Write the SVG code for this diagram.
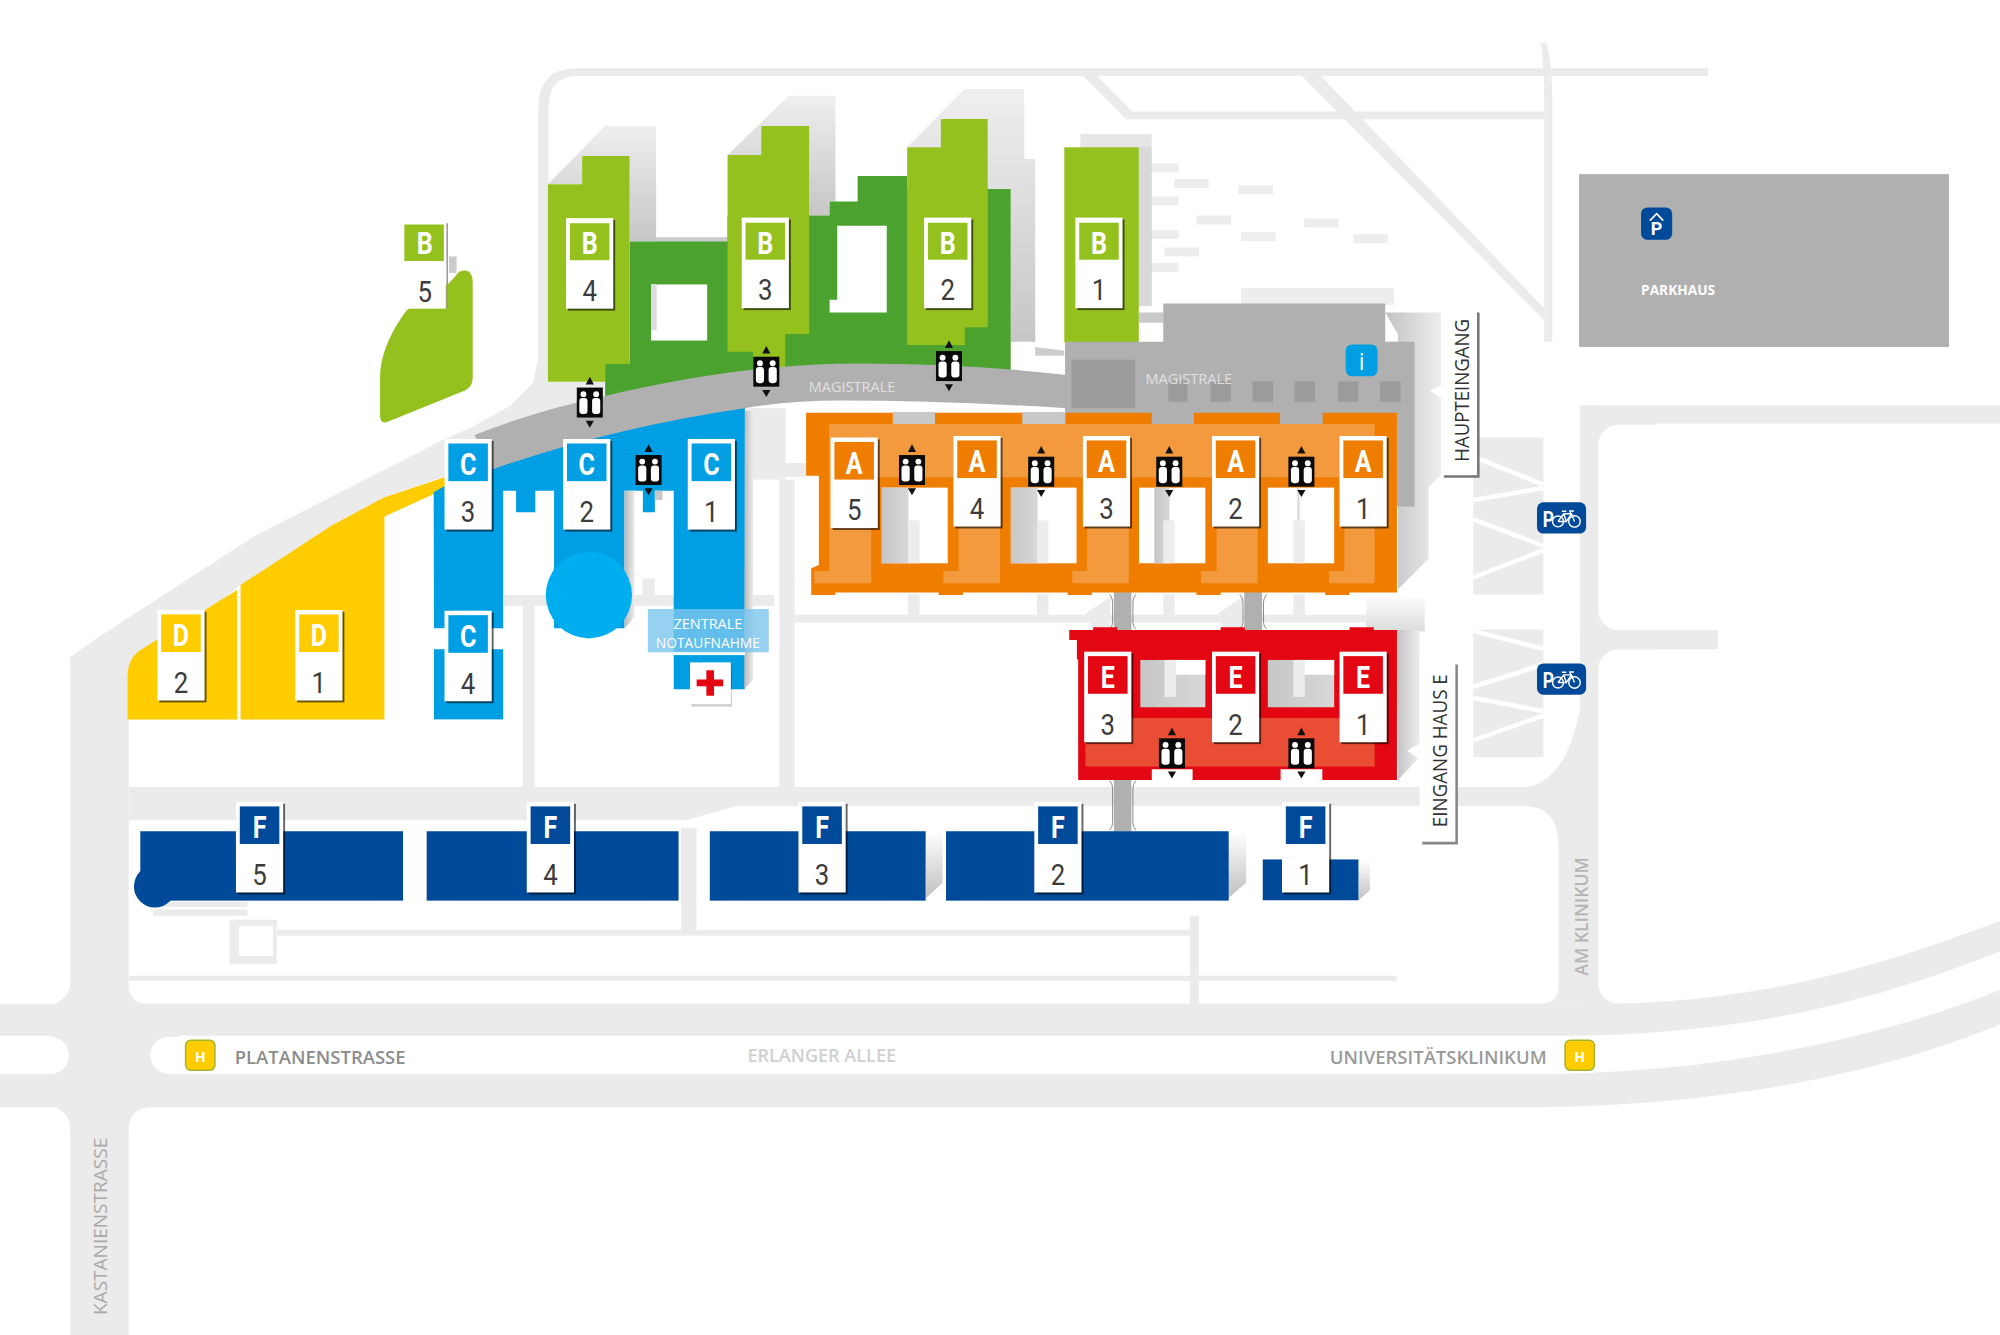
<svg xmlns="http://www.w3.org/2000/svg" width="2000" height="1335" viewBox="0 0 2000 1335">
<style>
.r{fill:#ebebeb}.w{fill:#fff}.s{fill:url(#sh)}.l{fill:url(#shl)}.ct{fill:url(#cg)}.p{fill:#ededed}.sf{fill:url(#sf)}
.g{fill:#b1b0b1}.dg{fill:#9b9b9b}.lg{fill:#95c11f}.dk{fill:#4ca22f}.bl{fill:#009fe3}.ye{fill:#fc0}.or{fill:#ef7d00}.lo{fill:#f39a3e}.re{fill:#e30613}.lr{fill:#e94e35}.nv{fill:#004a99}
.card{fill:#fff}.cs{fill:#000;opacity:.6}
.L{font:700 24px Roboto,"Liberation Sans",sans-serif;fill:#fff;text-anchor:middle;transform:scaleX(.82)}
.N{font:400 23px Roboto,"Liberation Sans",sans-serif;fill:#3c3c3c;text-anchor:middle;transform:scaleX(.88)}
.t{font-family:"Open Sans","Liberation Sans",sans-serif}
.pk{font:700 17px Roboto,"Liberation Sans",sans-serif;fill:#fff}
</style>
<defs>
<linearGradient id="sh" x1="0" y1="0" x2="0" y2="1"><stop offset="0" stop-color="#efefef"/><stop offset="1" stop-color="#c6c6c6"/></linearGradient>
<linearGradient id="sf" x1="0" y1="0" x2="0" y2="1"><stop offset="0" stop-color="#fff"/><stop offset="1" stop-color="#c0c0c0"/></linearGradient>
<linearGradient id="tp" x1="0" y1="0" x2="0" y2="1"><stop offset="0" stop-color="#fbfbfb"/><stop offset="1" stop-color="#dcdcdc"/></linearGradient>
<linearGradient id="shl" x1="0" y1="0" x2="1" y2="0"><stop offset="0" stop-color="#b9b9b9"/><stop offset="1" stop-color="#ececec"/></linearGradient>
<linearGradient id="sr" x1="0" y1="0" x2="1" y2="0"><stop offset="0" stop-color="#c2c2c2"/><stop offset="1" stop-color="#eeeeee"/></linearGradient>
<linearGradient id="cg" x1="0" y1="0" x2="1" y2="0"><stop offset="0" stop-color="#c6c6c6"/><stop offset="1" stop-color="#d8d8d8"/></linearGradient>
<g id="lift">
<polygon points="0,-20.2 -3.2,-14.2 3.2,-14.2" fill="#111"/><polygon points="0,19.8 -3.2,14.3 3.2,14.3" fill="#111"/>
<rect x="-10.2" y="-11.75" width="20.4" height="23.5" fill="#0a0a0a"/>
<g fill="#fff"><circle cx="-5" cy="-6.6" r="2.3"/><circle cx="5" cy="-6.6" r="2.3"/><rect x="-8.2" y="-3.6" width="6.4" height="12.6" rx="2.4"/><rect x="1.8" y="-3.6" width="6.4" height="12.6" rx="2.4"/></g>
</g>
<g id="bike" fill="none" stroke="#fff" stroke-width="1.1"><circle cx="16.5" cy="15" r="4.3"/><circle cx="29.4" cy="15" r="4.5"/><path d="M16.5 15L21 9L27 9L29.4 15M21 9L23 15L27 9M23 15H16.5M19.5 7H23M26.5 9L25.8 6.8H29"/></g>
</defs>
<rect width="2000" height="1335" fill="#fff"/>
<g id="map" transform="scale(1.27551)">
<g id="roads">
<path class="r" d="M55,515L78,499L200,420L349,344L372,334L400,318L418,300L422,280L422,85Q422,53.5 452,53.5L1339,53.5V59.5L452,59.5Q430,59.5 430,85V299H474V320L386,368L350,373L301,390L188.6,458.6L100,530H55Z"/>
<rect class="r" x="55" y="515" width="46" height="532"/>
<path class="r" d="M101,617L1198,617C1220,612 1232,590 1239,555V318H1252V787H101Z"/>
<path class="w" d="M101,643L538,643L577,632L1195,632Q1222,632 1222,665L1222,772Q1222,787 1207,787L116,787Q101,787 101,772Z"/>
<rect class="r" x="1239" y="318" width="329" height="14"/><rect class="r" x="1239" y="318" width="60" height="200"/><rect class="r" x="1239" y="494" width="30" height="300"/>
<rect class="w" x="1253" y="333" width="400" height="161" rx="16"/><rect class="w" x="1253" y="509" width="400" height="278" rx="16"/>
<rect class="r" x="1239" y="494" width="108" height="15"/>
<rect class="r" x="45" y="770" width="15" height="20"/><rect class="w" x="-50" y="500" width="105" height="287" rx="16"/>
<rect class="r" x="45" y="860" width="70" height="30"/><rect class="w" x="-50" y="868" width="105" height="300" rx="16"/><rect class="w" x="101" y="868" width="1500" height="300" rx="16"/>
<path class="r" d="M0,787L1255,787C1380,787 1480,755 1568,722V746C1480,780 1380,812 1220,812L0,812Z"/>
<path class="r" d="M0,842L1200,842C1350,842 1480,812 1568,776V803C1480,840 1350,868 1200,868L0,868Z"/>
<rect class="r" x="40" y="810" width="100" height="34"/><rect class="w" x="-40" y="813" width="94" height="29" rx="14"/><rect class="w" x="118" y="813" width="200" height="29" rx="14"/>
<rect class="r" x="1155" y="343" width="55" height="123"/><rect class="r" x="1155" y="493.6" width="55" height="100"/>
<path fill="none" stroke="#fff" stroke-width="3.6" d="M1155,358L1210,380M1155,392L1210,382.6M1155,407L1210,428M1155,452.6L1210,431.6M1155,494.6L1210,508.6M1155,538.4L1210,521M1155,547L1210,557.6M1155,580.4L1210,561"/>
<polygon class="r" points="849,59.3 883,93.5 1210.6,93.5 1210.6,87.5 887.6,87.5 860,59.3"/>
<polygon class="r" points="1020,59 1210.6,251 1210.6,241.6 1035,59"/>
<path class="r" d="M1210.6,34L1212.5,34Q1217,50 1217,80V268H1210.6V80Q1210.6,50 1208,34Z"/>
<rect class="r" x="101" y="765" width="994" height="4"/><rect class="r" x="217" y="729" width="723" height="4.5"/><rect class="r" x="933" y="718" width="7" height="69"/><rect class="r" x="534" y="649" width="12" height="84"/>
<path class="r" fill-rule="evenodd" d="M180,721H217V756H180ZM187.5,726V749.5H214V726Z"/>
<rect class="r" x="120" y="707" width="74" height="4"/><rect class="r" x="120" y="713" width="74" height="5"/>
<rect class="r" x="410" y="474" width="9" height="143"/><rect class="r" x="395" y="466.5" width="212" height="8.5"/><rect class="r" x="503.6" y="453.4" width="9.8" height="14"/>
<rect class="r" x="611" y="376" width="12" height="241"/><rect class="r" x="584" y="320" width="32" height="56"/><rect class="r" x="611" y="363" width="21" height="11"/>
<rect class="r" x="623" y="482" width="450" height="6"/>
<rect class="r" x="712" y="466" width="9" height="16"/><rect class="r" x="813" y="466" width="9" height="16"/><rect class="r" x="912" y="466" width="9" height="16"/><rect class="r" x="1014" y="466" width="9" height="16"/>
<g class="p"><rect x="897" y="128" width="27" height="7"/><rect x="920.6" y="140.4" width="27" height="7"/><rect x="971" y="145.3" width="27" height="7"/><rect x="897" y="154" width="27" height="7"/><rect x="938" y="169" width="27" height="7"/><rect x="1022.5" y="171.4" width="27" height="7"/><rect x="897" y="180.4" width="27" height="7"/><rect x="973" y="182" width="27" height="7"/><rect x="1061" y="183.7" width="27" height="7"/><rect x="913" y="194" width="27" height="7"/><rect x="897" y="206" width="27" height="7"/></g>
</g>
<g id="shadows">
<polygon class="s" points="429.6,144.5 474.4,98.5 514.4,98.5 514.4,189.4 493.6,189.4 493.6,122.3 456.4,122.3 456.4,144.5"/>
<rect x="514" y="186" width="56.4" height="4" fill="#ccc"/>
<polygon class="s" points="570.4,121.5 618.4,75 655,75 655,158 650.4,158 650.4,169 634.4,169 634.4,98.8 596.8,98.8 596.8,121.5"/>
<polygon class="s" points="711.2,115.5 756.4,69.8 803,69.8 803,124.6 811.6,124.6 811.6,268 792.4,268 792.4,148 774.4,148 774.4,93.3 737.6,93.3 737.6,115.5"/>
<polygon points="811.6,272 834.4,275 834.4,279 811.6,279" fill="#ccc"/>
<rect x="847" y="105" width="56" height="12" fill="#e6e6e6"/><rect x="893" y="115" width="10" height="125" fill="#d9d9d9"/><rect x="893" y="245" width="19" height="8" fill="#c9c9c9"/>
<rect x="973" y="226" width="120" height="13" class="p"/>
<polygon points="1086,245 1130,245 1130,302 1121,306.5 1130,312 1130,372 1120,382 1120,438 1096,462 1096,262" fill="url(#sr)"/>
<rect x="1071" y="469" width="46" height="26" fill="url(#tp)"/>
<polygon points="1095,494 1113,494 1113,583 1103,588.5 1112,594.5 1096,611.5" fill="url(#sr)"/>
<polygon points="851,481 870.5,468 870.5,494 857,494" class="r"/><polygon points="955,481 974,468 974,494 960,494" class="r"/>
<polygon class="sf" points="726,652 739,652 739,692 726,704"/><polygon class="sf" points="963,652 977,652 977,692 963,704"/><polygon class="sf" points="1065,674 1074,674 1074,698 1065,706"/>
<rect x="700" y="323" width="33" height="10" fill="#c8c8c8"/><rect x="801" y="323" width="35" height="10" fill="#c8c8c8"/>
</g>
<g id="haus-b">
<polygon class="dk" points="474.4,285 493.6,285 493.6,189.4 570.4,189.4 570.4,169 650.4,169 650.4,158 672.4,158 672.4,138 711.2,138 711.2,148.2 792.4,148.2 792.4,300 474.4,320"/>
<polygon class="lg" points="429.6,144.5 456.4,144.5 456.4,122.3 493.6,122.3 493.6,285.4 474.4,285.4 474.4,299.2 429.6,299.2"/>
<polygon class="lg" points="570.4,121.5 596.8,121.5 596.8,98.8 634.4,98.8 634.4,261.8 615.6,261.8 615.6,294 590.4,295 590.4,275.7 570.4,275.7"/>
<polygon class="lg" points="711.2,115.5 737.6,115.5 737.6,93.3 774.4,93.3 774.4,256.6 756.4,256.6 756.4,270.5 711.2,270.5"/>
<rect class="lg" x="834.4" y="115.5" width="58.4" height="153"/>
<rect class="w" x="510.4" y="223" width="44" height="44"/><rect x="510.4" y="223" width="4.4" height="36" fill="#ddd"/>
<polygon class="w" points="656.4,177 695.2,177 695.2,245 650.4,245 650.4,235 656.4,235"/>
<rect x="352" y="201" width="6" height="13" fill="#ccc"/>
<path class="lg" d="M352,222L360,213Q370.6,209 370.6,222L370.6,296Q370.6,303 365,306L303,331Q298,332 298,326L298,296C298,275 310,255 319,243Z"/>
</g>
<g id="haus-d">
<path class="ye" d="M188.6,458.6L260,412L301,390L349.6,373.7V383L301.4,405V564H188.6Z"/>
<path class="ye" d="M185.8,462.6V564H100V530Q100,518 108,511Z"/>
</g>
<g id="haus-c">
<path class="bl" d="M340,386L386,360L584,312V540.4H528.2V384.7H513.4V401.7H504V384.7H489.6V492.6H434.4V384.7H419.7V401.7H404.6V384.7H394.5V492.6H340.2Z"/>
<rect class="bl" x="340.2" y="509" width="54.3" height="55"/>
<polygon points="489.6,384.7 497.4,384.7 497.4,484 489.6,492.6" fill="url(#shl)"/>
<rect x="513.4" y="384.7" width="6" height="7.3" fill="#c8c8c8"/>
<polygon points="584,322 590.4,322 590.4,533 583.5,540.4" fill="url(#shl)"/>
<ellipse cx="461.7" cy="466.5" rx="33.8" ry="34" fill="#00aeef"/>
<rect class="w" x="528" y="511" width="56" height="2.6"/>
</g>
<g id="haus-main">
<polygon class="g" points="835,268 912,268 912,238 1086,238 1086,268 1109,268 1109,397 1095,397 1095,335 835,335"/>
<rect class="dg" x="840" y="282" width="50" height="38"/>
<g class="dg"><rect x="916" y="299" width="15" height="16"/><rect x="949" y="299" width="16" height="16"/><rect x="982" y="299" width="16" height="16"/><rect x="1015" y="299" width="16" height="16"/><rect x="1049" y="299" width="16" height="16"/><rect x="1082" y="299" width="16" height="16"/></g>
<path class="g" d="M372,341Q420,322 472,311Q580,285 674,285Q760,285 836,294L836,320Q740,314 660,314Q620,314 584,320Q480,335 386,368Z"/>
</g>
<g id="connectors">
<rect class="g" x="873.3" y="464" width="13.7" height="31"/><rect class="g" x="975.5" y="464" width="14" height="31"/><rect class="g" x="873.3" y="611" width="13.7" height="41"/>
<path fill="none" stroke="#666" stroke-width=".6" d="M870,466Q872.3,469 872.3,472V488Q872.3,491 870,493M890.5,466Q888.2,469 888.2,472V488Q888.2,491 890.5,493M972,466Q974.5,469 974.5,472V488Q974.5,491 972,493M993,466Q990.6,469 990.6,472V488Q990.6,491 993,493M870,612Q872.3,615 872.3,618V645Q872.3,648 870,651M890.5,612Q888.2,615 888.2,618V645Q888.2,648 890.5,651"/>
</g>
<g id="haus-a">
<path class="or" d="M632,323.5H700V332.4H733V323.5H801.5V332.4H835.5V323.5H903V332.4H936V323.5H1003.5V332.4H1037V323.5H1095.2V464.6H1058V466.5H1039V464.6H957V466.5H938V464.6H856V466.5H837V464.6H755V466.5H736V464.6H655V466.5H636V445.6L642,443V373H632Z"/>
<rect class="lo" x="650" y="332.4" width="427.7" height="41.8"/>
<g class="lo"><path d="M650,374H683V457.3H638.4V447.6H650Z"/><path d="M751.5,374H784V457.3H739.6V447.6H751.5Z"/><path d="M852.3,374H885V457.3H840.7V447.6H852.3Z"/><path d="M953.8,374H986V457.3H941.5V447.6H953.8Z"/><path d="M1054,374H1077.7V457.3H1042V447.6H1054Z"/></g>
<g class="w"><rect x="691.3" y="382.3" width="51.7" height="59.3"/><rect x="792.5" y="382.3" width="51.5" height="59.3"/><rect x="893" y="382.3" width="52" height="59.3"/><rect x="994" y="382.3" width="52" height="59.3"/></g>
<rect class="ct" x="691.3" y="382.3" width="21" height="59.3"/><rect class="ct" x="792.5" y="382.3" width="21" height="59.3"/><rect class="ct" x="905" y="382.3" width="12" height="59.3"/><rect x="1017" y="382.3" width="2" height="59.3" fill="#ddd"/>
<g class="p"><rect x="712" y="408" width="9" height="33.6"/><rect x="813" y="408" width="9" height="33.6"/><rect x="912" y="408" width="9" height="33.6"/><rect x="1014" y="408" width="9" height="33.6"/></g>
</g>
<g id="haus-e">
<path class="re" d="M838.3,493.9H857V491.8H876V493.9H957V491.8H976V493.9H1058V491.8H1077V493.9H1095.2V611.5H1036.7V603H1004V611.5H935V603H903V611.5H845.3V517H844.3V501.7H838.3Z"/>
<rect class="lr" x="851" y="563" width="226.7" height="38"/>
<rect class="ct" x="894" y="517.4" width="51" height="37.1"/><rect class="w" x="915" y="517.4" width="30" height="11.6"/><rect x="913" y="517.4" width="9" height="29" class="p"/>
<rect class="ct" x="994" y="517.4" width="52" height="37.1"/><rect class="w" x="1016" y="517.4" width="30" height="11.6"/><rect x="1014" y="517.4" width="9" height="29" class="p"/>
</g>
<g id="haus-f">
<rect class="nv" x="110" y="651.7" width="206" height="54.4"/><circle class="nv" cx="121.5" cy="695" r="16.5"/>
<rect class="nv" x="334.5" y="651.7" width="197.5" height="54.4"/><rect class="nv" x="556.5" y="651.7" width="169.2" height="54.4"/><rect class="nv" x="741.7" y="651.7" width="221.6" height="54.4"/><rect class="nv" x="990" y="673.8" width="75" height="32"/>
</g>
<g id="notaufnahme">
<rect x="507.9" y="477.5" width="94.8" height="33.9" fill="#7cc6ee" opacity=".8"/>
<text class="t" x="555" y="493.4" font-size="12" fill="#fff" text-anchor="middle" textLength="54" lengthAdjust="spacingAndGlyphs">ZENTRALE</text>
<text class="t" x="555" y="508.3" font-size="12" fill="#fff" text-anchor="middle" textLength="81.6" lengthAdjust="spacingAndGlyphs">NOTAUFNAHME</text>
<rect x="542" y="521" width="32" height="33" fill="#000" opacity=".18"/>
<rect class="w" x="541" y="519.3" width="32" height="32.7"/>
<path class="re" d="M553.8,525.5h6v7.2h7.2v5.4h-7.2v7.4h-6v-7.4h-7.6v-5.4h7.6z"/>
</g>
<g id="lifts">
<use href="#lift" x="462.4" y="315.6"/><use href="#lift" x="600.8" y="291.4"/><use href="#lift" x="744" y="287"/><use href="#lift" x="508.5" y="368.5"/>
<use href="#lift" x="715" y="368.5"/><use href="#lift" x="816.3" y="369.8"/><use href="#lift" x="916.7" y="369.8"/><use href="#lift" x="1020.3" y="369.8"/>
<use href="#lift" x="918.8" y="590.6"/><use href="#lift" x="1020.3" y="590.6"/>
</g>
<g id="cards">
<g id="card-B5" transform="translate(333,173)"><rect class="card" x="-16.5" y="0" width="33" height="69"/><rect x="17" y="2" width="1.2" height="67" fill="#999"/><rect class="lg" x="-16" y="3" width="31" height="28.6"/><text class="L" y="26.5">B</text><text class="N" y="64">5</text></g>
<g id="card-B4" transform="translate(462.3,171)"><rect class="cs" x="-17" y="1.5" width="37" height="71"/><rect class="card" x="-18.5" width="37" height="71"/><rect class="lg" x="-15.5" y="4" width="31" height="29"/><text class="L" y="28.5">B</text><text class="N" y="65">4</text></g>
<g id="card-B3" transform="translate(600,170.6)"><rect class="cs" x="-17" y="1.5" width="37" height="71"/><rect class="card" x="-18.5" width="37" height="71"/><rect class="lg" x="-15.5" y="4" width="31" height="29"/><text class="L" y="28.5">B</text><text class="N" y="65">3</text></g>
<g id="card-B2" transform="translate(743,170.6)"><rect class="cs" x="-17" y="1.5" width="37" height="71"/><rect class="card" x="-18.5" width="37" height="71"/><rect class="lg" x="-15.5" y="4" width="31" height="29"/><text class="L" y="28.5">B</text><text class="N" y="65">2</text></g>
<g id="card-B1" transform="translate(861.6,170.6)"><rect class="cs" x="-17" y="1.5" width="37" height="71"/><rect class="card" x="-18.5" width="37" height="71"/><rect class="lg" x="-15.5" y="4" width="31" height="29"/><text class="L" y="28.5">B</text><text class="N" y="65">1</text></g>
<g id="card-C3" transform="translate(367,344.2)"><rect class="cs" x="-17" y="1.5" width="37" height="71"/><rect class="card" x="-18.5" width="37" height="71"/><rect class="bl" x="-15.5" y="3.5" width="31" height="29.5"/><text class="L" y="28.5">C</text><text class="N" y="65">3</text></g>
<g id="card-C2" transform="translate(460,344.2)"><rect class="cs" x="-17" y="1.5" width="37" height="71"/><rect class="card" x="-18.5" width="37" height="71"/><rect class="bl" x="-15.5" y="3.5" width="31" height="29.5"/><text class="L" y="28.5">C</text><text class="N" y="65">2</text></g>
<g id="card-C1" transform="translate(557.7,344.2)"><rect class="cs" x="-17" y="1.5" width="37" height="71"/><rect class="card" x="-18.5" width="37" height="71"/><rect class="bl" x="-15.5" y="3.5" width="31" height="29.5"/><text class="L" y="28.5">C</text><text class="N" y="65">1</text></g>
<g id="card-C4" transform="translate(367,478.8)"><rect class="cs" x="-17" y="1.5" width="37" height="71"/><rect class="card" x="-18.5" width="37" height="71"/><rect class="bl" x="-15.5" y="3.5" width="31" height="29.5"/><text class="L" y="28.5">C</text><text class="N" y="65">4</text></g>
<g id="card-D2" transform="translate(141.9,478.2)"><rect class="cs" x="-17" y="1.5" width="37" height="71"/><rect class="card" x="-18.5" width="37" height="71"/><rect class="ye" x="-15.5" y="3.5" width="31" height="29.5"/><text class="L" y="28.5">D</text><text class="N" y="65">2</text></g>
<g id="card-D1" transform="translate(250,478.2)"><rect class="cs" x="-17" y="1.5" width="37" height="71"/><rect class="card" x="-18.5" width="37" height="71"/><rect class="ye" x="-15.5" y="3.5" width="31" height="29.5"/><text class="L" y="28.5">D</text><text class="N" y="65">1</text></g>
<g id="card-A5" transform="translate(669.7,343)"><rect class="cs" x="-17" y="1.5" width="37" height="71"/><rect class="card" x="-18.5" width="37" height="71"/><rect class="or" x="-15.5" y="3.5" width="31" height="29.5"/><text class="L" y="28.5">A</text><text class="N" y="65">5</text></g>
<g id="card-A4" transform="translate(766,341.8)"><rect class="cs" x="-17" y="1.5" width="37" height="71"/><rect class="card" x="-18.5" width="37" height="71"/><rect class="or" x="-15.5" y="3.5" width="31" height="29.5"/><text class="L" y="28.5">A</text><text class="N" y="65">4</text></g>
<g id="card-A3" transform="translate(867.5,341.8)"><rect class="cs" x="-17" y="1.5" width="37" height="71"/><rect class="card" x="-18.5" width="37" height="71"/><rect class="or" x="-15.5" y="3.5" width="31" height="29.5"/><text class="L" y="28.5">A</text><text class="N" y="65">3</text></g>
<g id="card-A2" transform="translate(968.7,341.8)"><rect class="cs" x="-17" y="1.5" width="37" height="71"/><rect class="card" x="-18.5" width="37" height="71"/><rect class="or" x="-15.5" y="3.5" width="31" height="29.5"/><text class="L" y="28.5">A</text><text class="N" y="65">2</text></g>
<g id="card-A1" transform="translate(1068.7,341.8)"><rect class="cs" x="-17" y="1.5" width="37" height="71"/><rect class="card" x="-18.5" width="37" height="71"/><rect class="or" x="-15.5" y="3.5" width="31" height="29.5"/><text class="L" y="28.5">A</text><text class="N" y="65">1</text></g>
<g id="card-E3" transform="translate(868.5,510.9)"><rect class="cs" x="-17" y="1.5" width="37" height="71"/><rect class="card" x="-18.5" width="37" height="71"/><rect class="re" x="-15.5" y="3.5" width="31" height="29.5"/><text class="L" y="28.5">E</text><text class="N" y="65">3</text></g>
<g id="card-E2" transform="translate(968.7,510.9)"><rect class="cs" x="-17" y="1.5" width="37" height="71"/><rect class="card" x="-18.5" width="37" height="71"/><rect class="re" x="-15.5" y="3.5" width="31" height="29.5"/><text class="L" y="28.5">E</text><text class="N" y="65">2</text></g>
<g id="card-E1" transform="translate(1068.7,510.9)"><rect class="cs" x="-17" y="1.5" width="37" height="71"/><rect class="card" x="-18.5" width="37" height="71"/><rect class="re" x="-15.5" y="3.5" width="31" height="29.5"/><text class="L" y="28.5">E</text><text class="N" y="65">1</text></g>
<g id="card-F5" transform="translate(203.5,628.7)"><rect class="cs" x="-17" y="1.5" width="37" height="71"/><rect class="card" x="-18.5" width="37" height="71"/><rect class="nv" x="-15.5" y="3.5" width="31" height="29.5"/><text class="L" y="28.5">F</text><text class="N" y="65">5</text></g>
<g id="card-F4" transform="translate(431.5,628.7)"><rect class="cs" x="-17" y="1.5" width="37" height="71"/><rect class="card" x="-18.5" width="37" height="71"/><rect class="nv" x="-15.5" y="3.5" width="31" height="29.5"/><text class="L" y="28.5">F</text><text class="N" y="65">4</text></g>
<g id="card-F3" transform="translate(644.5,628.7)"><rect class="cs" x="-17" y="1.5" width="37" height="71"/><rect class="card" x="-18.5" width="37" height="71"/><rect class="nv" x="-15.5" y="3.5" width="31" height="29.5"/><text class="L" y="28.5">F</text><text class="N" y="65">3</text></g>
<g id="card-F2" transform="translate(829.4,628.7)"><rect class="cs" x="-17" y="1.5" width="37" height="71"/><rect class="card" x="-18.5" width="37" height="71"/><rect class="nv" x="-15.5" y="3.5" width="31" height="29.5"/><text class="L" y="28.5">F</text><text class="N" y="65">2</text></g>
<g id="card-F1" transform="translate(1023.6,628.7)"><rect class="cs" x="-17" y="1.5" width="37" height="71"/><rect class="card" x="-18.5" width="37" height="71"/><rect class="nv" x="-15.5" y="3.5" width="31" height="29.5"/><text class="L" y="28.5">F</text><text class="N" y="65">1</text></g>
</g>
<g id="parkhaus">
<rect class="g" x="1238" y="136.5" width="290" height="135.5"/>
<rect class="nv" x="1286.6" y="162.6" width="24.4" height="25.4" rx="5"/>
<path d="M1293.5,173L1298.8,167.5L1304,173" fill="none" stroke="#fff" stroke-width="1.3"/>
<text class="pk" x="1298.8" y="184.5" style="font-size:14px" text-anchor="middle">P</text>
<text class="t" x="1286.6" y="231.3" font-size="11" font-weight="700" fill="#fff" textLength="58" lengthAdjust="spacingAndGlyphs">PARKHAUS</text>
</g>
<g id="info"><rect class="bl" x="1055" y="270" width="25" height="25" rx="5"/><text class="t" x="1067.5" y="290" font-size="18" fill="#fff" text-anchor="middle">i</text></g>
<g id="magistrale-labels" class="t" font-size="11" fill="#e0e0e0">
<text x="634" y="307" textLength="68" lengthAdjust="spacingAndGlyphs">MAGISTRALE</text>
<text x="898" y="301" textLength="68" lengthAdjust="spacingAndGlyphs">MAGISTRALE</text>
</g>
<g id="sign-haupteingang">
<rect class="w" x="1130" y="245" width="29" height="127"/><path d="M1159,245V373.5H1132" fill="none" stroke="#777" stroke-width="2"/>
<text class="t" transform="translate(1152,362) rotate(-90)" font-size="15" fill="#333" textLength="112" lengthAdjust="spacingAndGlyphs">HAUPTEINGANG</text>
</g>
<g id="sign-eingang-e">
<rect class="w" x="1113" y="517.4" width="29" height="144"/><path d="M1142,521V661H1115" fill="none" stroke="#888" stroke-width="2"/>
<text class="t" transform="translate(1134.7,648.6) rotate(-90)" font-size="15" fill="#333" textLength="120" lengthAdjust="spacingAndGlyphs">EINGANG HAUS E</text>
</g>
<g id="bike-1" transform="translate(1205,393.8)"><rect class="nv" width="38.5" height="24.5" rx="5"/><text class="pk" transform="translate(4.5,19) scale(.8,1)">P</text><use href="#bike"/></g>
<g id="bike-2" transform="translate(1205,520.1)"><rect class="nv" width="38.5" height="24.5" rx="5"/><text class="pk" transform="translate(4.5,19) scale(.8,1)">P</text><use href="#bike"/></g>
<g id="stop-1"><rect x="145.5" y="815.5" width="23" height="23.5" rx="4" fill="#fc0" stroke="#a3b52e" stroke-width="1.2"/><text class="t" x="157" y="833" font-size="11" font-weight="700" fill="#fff" text-anchor="middle">H</text></g>
<g id="stop-2"><rect x="1227" y="815.5" width="23" height="23.5" rx="4" fill="#fc0" stroke="#a3b52e" stroke-width="1.2"/><text class="t" x="1238.5" y="833" font-size="11" font-weight="700" fill="#fff" text-anchor="middle">H</text></g>
<g id="labels" class="t" font-weight="600">
<text x="184" y="834" font-size="14" fill="#8c8c8c" textLength="134" lengthAdjust="spacingAndGlyphs">PLATANENSTRASSE</text>
<text x="586" y="832.6" font-size="14" fill="#d0d0d0" textLength="116.5" lengthAdjust="spacingAndGlyphs">ERLANGER ALLEE</text>
<text x="1042.6" y="834" font-size="14" fill="#9a9a9a" textLength="170" lengthAdjust="spacingAndGlyphs">UNIVERSITÄTSKLINIKUM</text>
<text transform="translate(1245,765) rotate(-90)" font-size="14" fill="#b5b5b5" textLength="93" lengthAdjust="spacingAndGlyphs">AM KLINIKUM</text>
<text transform="translate(84,1031) rotate(-90)" font-size="14" font-weight="400" fill="#a9a9a9" textLength="139" lengthAdjust="spacingAndGlyphs">KASTANIENSTRASSE</text>
</g>
</g>
</svg>
